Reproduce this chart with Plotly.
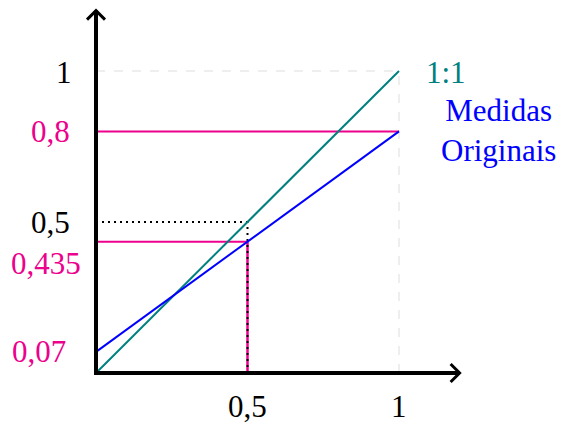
import plotly.graph_objects as go

# data
x_ref = [0, 1]
y_ref = [0, 1]
x_orig = [0, 1]
y_orig = [0.07, 0.8]
x_read = 0.5
y_read = 0.435
y_top = 0.8

y_tick_vals = [1, 0.8, 0.5, 0.435, 0.07]
y_tick_text = ["1", "0,8", "0,5", "0,435", "0,07"]
x_tick_vals = [0.5, 1]
x_tick_text = ["0,5", "1"]

TEAL = "#00807F"
BLUE = "#0000FF"
MAGENTA = "#EC008C"
FONT = "Liberation Serif, Times New Roman, serif"
FS = 31

# pixel geometry: x=0 at 96px, x=1 at 399px; y=0 at 373px, y=1 at 71px
W, H = 569, 424
X0, XS = 96, 303
Y0, YS = 373, 302
x_range = [-X0 / XS, (W - X0) / XS]
y_range = [-(H - Y0) / YS, Y0 / YS]
AX_END = 1.2

fig = go.Figure()


def seg(xs, ys, color, width, dash="solid"):
    fig.add_trace(go.Scatter(x=xs, y=ys, mode="lines", hoverinfo="skip",
                             line={"color": color, "width": width, "dash": dash}))


# light guide lines at 1
seg([0, 1], [1, 1], "#DDDDDD", 1, "dash")
seg([1, 1], [0, 1], "#DDDDDD", 1, "dash")

# reading lines
seg([0, x_orig[1]], [y_top, y_top], MAGENTA, 2)
seg([0, x_read], [y_read, y_read], MAGENTA, 2)
seg([x_read, x_read], [0, y_read], MAGENTA, 2.5)
seg([0, x_read], [0.5, 0.5], "black", 2, "2px,4px")
seg([x_read, x_read], [0, 0.5], "black", 2, "2px,4px")

# main lines
seg(x_ref, y_ref, TEAL, 2)
seg(x_orig, y_orig, BLUE, 2)

# axes with open arrow heads
ax_dx, ax_dy = 9 / XS, 9 / YS
seg([-2 / XS, AX_END], [0, 0], "black", 4)
seg([0, 0], [-2 / YS, AX_END], "black", 4)
seg([AX_END - ax_dx, AX_END, AX_END - ax_dx], [ax_dy, 0, -ax_dy], "black", 3)
seg([-ax_dx, 0, ax_dx], [AX_END - ax_dy, AX_END, AX_END - ax_dy], "black", 3)

# tick labels
y_label_colors = ["black", MAGENTA, "black", MAGENTA, MAGENTA]
y_label_xshift = [-22, -24, -24, -13, -28]
y_label_yshift = [-1, 0, 0, -22, 0]
for v, t, c, xs, ys in zip(y_tick_vals, y_tick_text, y_label_colors,
                           y_label_xshift, y_label_yshift):
    fig.add_annotation(x=0, y=v, text=t, showarrow=False, xanchor="right",
                       yanchor="middle", xshift=xs, yshift=ys,
                       font={"family": FONT, "size": FS, "color": c})

for v, t in zip(x_tick_vals, x_tick_text):
    fig.add_annotation(x=v, y=0, text=t, showarrow=False, xanchor="center",
                       yanchor="middle", yshift=-33,
                       font={"family": FONT, "size": FS, "color": "black"})

fig.add_annotation(x=1, y=1, text="1:1", showarrow=False, xanchor="left",
                   yanchor="middle", xshift=25, yshift=-1,
                   font={"family": FONT, "size": FS, "color": TEAL})
fig.add_annotation(x=1, y=y_top, text="Medidas<br>Originais", showarrow=False,
                   xanchor="center", yanchor="middle", xshift=99, yshift=1,
                   font={"family": FONT, "size": FS, "color": BLUE})

fig.update_layout(
    width=W,
    height=H,
    margin={"l": 0, "r": 0, "t": 0, "b": 0},
    paper_bgcolor="white",
    plot_bgcolor="white",
    showlegend=False,
    xaxis={"range": x_range, "visible": False, "fixedrange": True},
    yaxis={"range": y_range, "visible": False, "fixedrange": True},
)

fig.write_html("out.html", config={"displayModeBar": False},
               post_script="document.body.style.margin='0';")
